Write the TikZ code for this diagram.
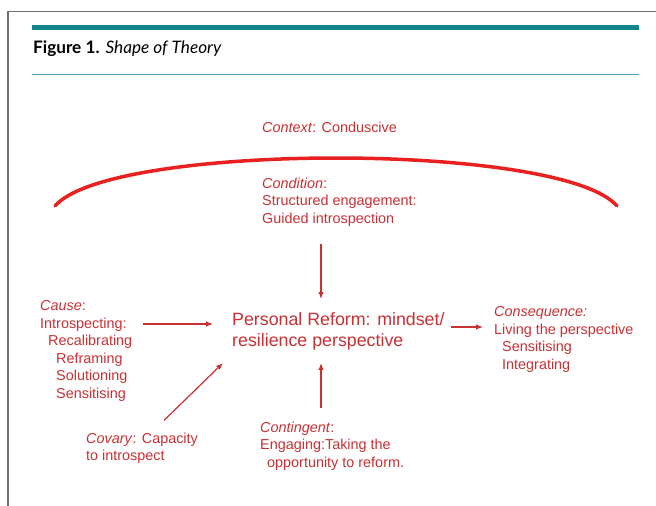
\documentclass[tikz,border=0pt]{standalone}
\usepackage{fontspec}
\setmainfont{Liberation Sans}
\newfontfamily\titlefont{Lato}
\usepackage{tikz}
\usetikzlibrary{arrows.meta}
\definecolor{inkred}{RGB}{200,48,52}
\definecolor{arcred}{RGB}{232,32,32}
\definecolor{tealbar}{RGB}{18,134,140}
\definecolor{tealrule}{RGB}{80,160,170}
\definecolor{framegray}{RGB}{110,110,110}
\newcommand{\ind}[1]{\hspace*{#1pt}}
\tikzset{
  lbl/.style={inner sep=0pt, anchor=north west, align=left, text=inkred,
    font=\fontsize{14.4}{17.5}\selectfont},
  flow/.style={draw=inkred, line width=1.2pt, -{Latex[length=7pt,width=5.5pt]}},
}

\begin{document}
\begin{tikzpicture}[x=1pt,y=-1pt]
    \useasboundingbox (0,0) rectangle (656,506);
    % frame and title rules
    \draw[framegray, line width=1.5pt] (8,506) -- (8,11.5) -- (656,11.5);
    \fill[tealbar] (32,25) rectangle (639,30);
    \draw[tealrule, line width=1pt] (32,74) -- (639,74);
    \node[anchor=base west, inner sep=0pt, font=\fontsize{17.2}{20}\titlefont] (title) at (33,53)
        {\textbf{Figure 1.} \textit{Shape of Theory}};

    % context arc
    \draw[arcred, line width=3.5pt, line cap=round] (55,206) .. controls (110,142) and (562,142) .. (617,206);

    \node[lbl] (context) at (262,121.4) {\textit{Context}: Conduscive};
    \node[lbl] (condition) at (262,177.4) {\textit{Condition}:\\ Structured engagement:\\ Guided introspection};
    \node[lbl, font=\fontsize{17.8}{21}\selectfont] (reform) at (232,312) {Personal Reform: mindset/\\ resilience perspective};
    \node[lbl] (cause) at (40,300.4) {\textit{Cause}:\\ Introspecting:\\ \ind{8}Recalibrating\\ \ind{16}Reframing\\ \ind{16}Solutioning\\ \ind{16}Sensitising};
    \node[lbl] (covary) at (86,432.4) {\textit{Covary}: Capacity\\ to introspect};
    \node[lbl] (contingent) at (260,421.4) {\textit{Contingent}:\\ Engaging:Taking the\\ \ind{7}opportunity to reform.};
    \node[lbl] (consequence) at (494,306.4) {\textit{Consequence:}\\ Living the perspective\\ \ind{8}Sensitising\\ \ind{8}Integrating};

    % arrows into the reform
    \coordinate (tipTop) at (321,299);
    \coordinate (tipBot) at (321,363);
    \coordinate (tipCause) at (213,324);
    \coordinate (tipCov) at (223,363);
    \coordinate (tipCons) at (483,327);
    \draw[flow, shorten <=18pt] (condition.south -| tipTop) -- (tipTop);
    \draw[flow, shorten <=13pt] (contingent.north -| tipBot) -- (tipBot);
    \draw[flow, shorten <=11pt] (cause.east |- tipCause) -- (tipCause);
    \draw[flow] ([shift={(78,-12)}]covary.north west) -- (tipCov);
    \draw[flow, shorten <=6pt] (reform.east |- tipCons) -- (tipCons);
\end{tikzpicture}
\end{document}
